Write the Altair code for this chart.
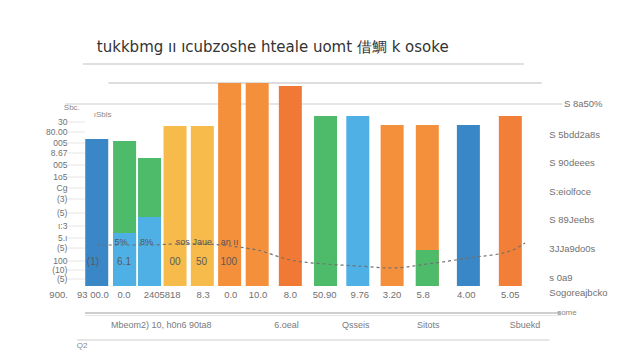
import altair as alt
import pandas as pd

# ---- data ----
bar_pos = [0.4, 1.35, 2.2, 3.07, 4.0, 4.93, 5.87, 7.0, 8.2, 9.3, 10.47, 11.67, 13.07, 14.5]
bar_total = [73.5, 72.5, 64, 80, 80, 101.5, 101.5, 100, 85, 85, 80.5, 80.5, 80.5, 85]
bar_series = ["Blue", "Green", "Green", "Amber", "Amber", "Orange", "Orange", "Vermilion",
              "Green", "Sky", "Orange", "Orange", "Blue", "Tangerine"]

seg_pos = [1.35, 2.2, 11.67]
seg_value = [26.5, 34.5, 18]
seg_series = ["Sky", "Sky", "Green"]

line_pos = [0.4, 1.35, 2.2, 3.07, 4.0, 4.93, 5.87, 7.0, 8.2, 9.3, 10.47, 11.67, 13.07, 14.5, 15.0]
line_value = [20.5, 20.5, 20.5, 21, 21, 20, 18, 13, 11, 10, 9, 11, 14, 17.5, 21.5]

series_names = ["Blue", "Sky", "Green", "Amber", "Orange", "Vermilion", "Tangerine"]
series_colors = ["#3a87c8", "#4eb0e5", "#4dbb69", "#f6bb4a", "#f4903b", "#f07a35", "#f27f37"]

left_ticks = [82, 77, 71.5, 66.5, 60.5, 54.5, 49, 43.5, 36.5, 30, 24, 19, 12.5, 8, 3.5]
left_labels = ["30", "80.00", "005", "8.67", "005", "1o5", "Cg", "(3)", "(5)", "ı:3",
               "5.ı", "(5)", "100", "(10)", "(5)"]

right_top_label = "S 8a50%"
right_top_tick = 91
right_ticks = [75.5, 61.5, 47, 33, 18.5, 4, -3.5]
right_labels = ["S 5bdd2a8s", "S 90deees", "S:eiolfoce", "S 89Jeebs",
                "3JJa9do0s", "s 0a9", "Sogoreajbcko"]

value_pos = [-0.9, 0.27, 1.33, 2.63, 4.03, 4.97, 5.9, 7.0, 8.17, 9.37, 10.47, 11.53, 13.0, 14.5]
value_labels = ["900.", "93 00.0", "0.0", "2405818", "8.3", "0.0", "10.0", "8.0", "50.90",
                "9.76", "3.20", "5.8", "4.00", "5.05"]

cat_pos = [2.6, 6.87, 9.23, 11.7, 15.0]
cat_labels = ["Mbeom2) 10, h0n6  90ta8", "6.oeal", "Qsseis", "Sitots", "Sbuekd"]

inbar_pos = [0.27, 1.33, 3.07, 3.97, 4.9]
inbar_labels = ["(1)", "6.1", "00", "50", "100"]

online_pos = [1.23, 2.1, 3.33, 4.0, 4.93]
online_labels = ["5%", "8%", "sos", "Jaue", "an ıı"]

title_text = "tukkbmg ıı ıcubzoshe hteale uomt 借鯛 k osoke"

# ---- scales ----
xs = alt.Scale(domain=[0, 15], nice=False, zero=False)
ys = alt.Scale(domain=[0, 110], nice=False, zero=False)
cs = alt.Scale(domain=series_names, range=series_colors)

bars_df = pd.DataFrame({"pos": bar_pos, "value": bar_total, "series": bar_series})
seg_df = pd.DataFrame({"pos": seg_pos, "value": seg_value, "series": seg_series})
line_df = pd.DataFrame({"pos": line_pos, "value": line_value})
left_df = pd.DataFrame({"v": left_ticks, "label": left_labels})
right_df = pd.DataFrame({"v": right_ticks, "label": right_labels})
right_top_df = pd.DataFrame({"v": [right_top_tick], "label": [right_top_label]})
val_df = pd.DataFrame({"pos": value_pos, "label": value_labels})
cat_df = pd.DataFrame({"pos": cat_pos, "label": cat_labels})
inbar_df = pd.DataFrame({"pos": inbar_pos, "label": inbar_labels})
online_df = pd.DataFrame({"pos": online_pos, "label": online_labels})


def X(f):
    return alt.X(f, type="quantitative", scale=xs, axis=None)


def Y(f):
    return alt.Y(f, type="quantitative", scale=ys, axis=None)


def XD(v):
    return alt.X(datum=v, type="quantitative", scale=xs, axis=None)


def YD(v):
    return alt.Y(datum=v, type="quantitative", scale=ys, axis=None)


one = pd.DataFrame({"a": [0]})

# horizontal decoration rules (in data units)
rules = []
for y, x0, x1, col, w in [(111, -0.07, 14.97, "#d6d6d6", 1.5),
                          (101.5, 0.8, 15.57, "#d2d2d2", 1.5),
                          (91, -0.67, 16.27, "#dedede", 1.5),
                          (-13.5, 0.0, 16.23, "#cfcfcf", 2),
                          (-14.8, 0.0, 16.23, "#e6e6e6", 1),
                          (-27, -0.27, 15.83, "#dcdcdc", 1.5)]:
    rules.append(alt.Chart(one).mark_rule(color=col, strokeWidth=w).encode(
        x=XD(x0), x2=alt.X2(datum=x1), y=YD(y)))

left_ticks_layer = alt.Chart(left_df).mark_rule(color="#e6e6e6", strokeWidth=1).encode(
    x=XD(-0.6), x2=alt.X2(datum=0), y=Y("v"))

bars = alt.Chart(bars_df).mark_bar(size=23).encode(
    x=X("pos"), y=Y("value"),
    color=alt.Color("series:N", scale=cs, legend=None))
segs = alt.Chart(seg_df).mark_bar(size=23).encode(
    x=X("pos"), y=Y("value"),
    color=alt.Color("series:N", scale=cs, legend=None))

line = alt.Chart(line_df).mark_line(color="#707070", strokeWidth=1.2, strokeDash=[3, 3],
                                    interpolate="monotone").encode(x=X("pos"), y=Y("value"))

font = "Liberation Sans"
gray = "#707070"
left_text = alt.Chart(left_df).mark_text(align="right", baseline="middle", fontSize=8.5,
                                         color=gray, font=font).encode(
    x=XD(-0.6), y=Y("v"), text="label")
right_text = alt.Chart(right_df).mark_text(align="left", baseline="middle", fontSize=9.5,
                                           color=gray, font=font).encode(
    x=XD(15.83), y=Y("v"), text="label")
right_top_text = alt.Chart(right_top_df).mark_text(align="left", baseline="middle", fontSize=9.5,
                                                   color=gray, font=font).encode(
    x=XD(16.33), y=Y("v"), text="label")
val_text = alt.Chart(val_df).mark_text(align="center", baseline="middle", fontSize=9.5,
                                       color=gray, font=font).encode(
    x=X("pos"), y=YD(-4.5), text="label")
cat_text = alt.Chart(cat_df).mark_text(align="center", baseline="middle", fontSize=9,
                                       color="#7a7a7a", font=font).encode(
    x=X("pos"), y=YD(-19.5), text="label")
inbar_text = alt.Chart(inbar_df).mark_text(align="center", baseline="middle", fontSize=10,
                                           color="#5a5a5a", font=font).encode(
    x=X("pos"), y=YD(12), text="label")
online_text = alt.Chart(online_df).mark_text(align="center", baseline="middle", fontSize=9,
                                             color="#555", font=font).encode(
    x=X("pos"), y=YD(22), text="label")

extra_df = pd.DataFrame({"pos": [-0.45, 0.6, 16.43, -0.1], "v": [89, 85.5, -13.5, -30],
                         "label": ["Sbc.", "ıSbls", "some", "Q2"]})
extra_text = alt.Chart(extra_df).mark_text(align="center", baseline="middle", fontSize=8,
                                           color="#888", font=font).encode(
    x=X("pos"), y=Y("v"), text="label")

title_layer = alt.Chart(one).mark_text(align="center", baseline="middle", fontSize=15,
                                       color="#333", font="DejaVu Sans").encode(
    x=XD(6.4), y=YD(119.5), text=alt.value(title_text))

chart = alt.layer(*rules, left_ticks_layer, bars, segs, line, left_text, right_text,
                  right_top_text, val_text, cat_text, inbar_text, online_text, extra_text,
                  title_layer).properties(
    width=450, height=220,
    autosize=alt.AutoSizeParams(type="none"),
    padding={"left": 72, "top": 58, "right": 102, "bottom": 66},
    background="white",
).configure_view(stroke=None)

chart.save("out.html", embed_options={"renderer": "svg", "actions": False})
